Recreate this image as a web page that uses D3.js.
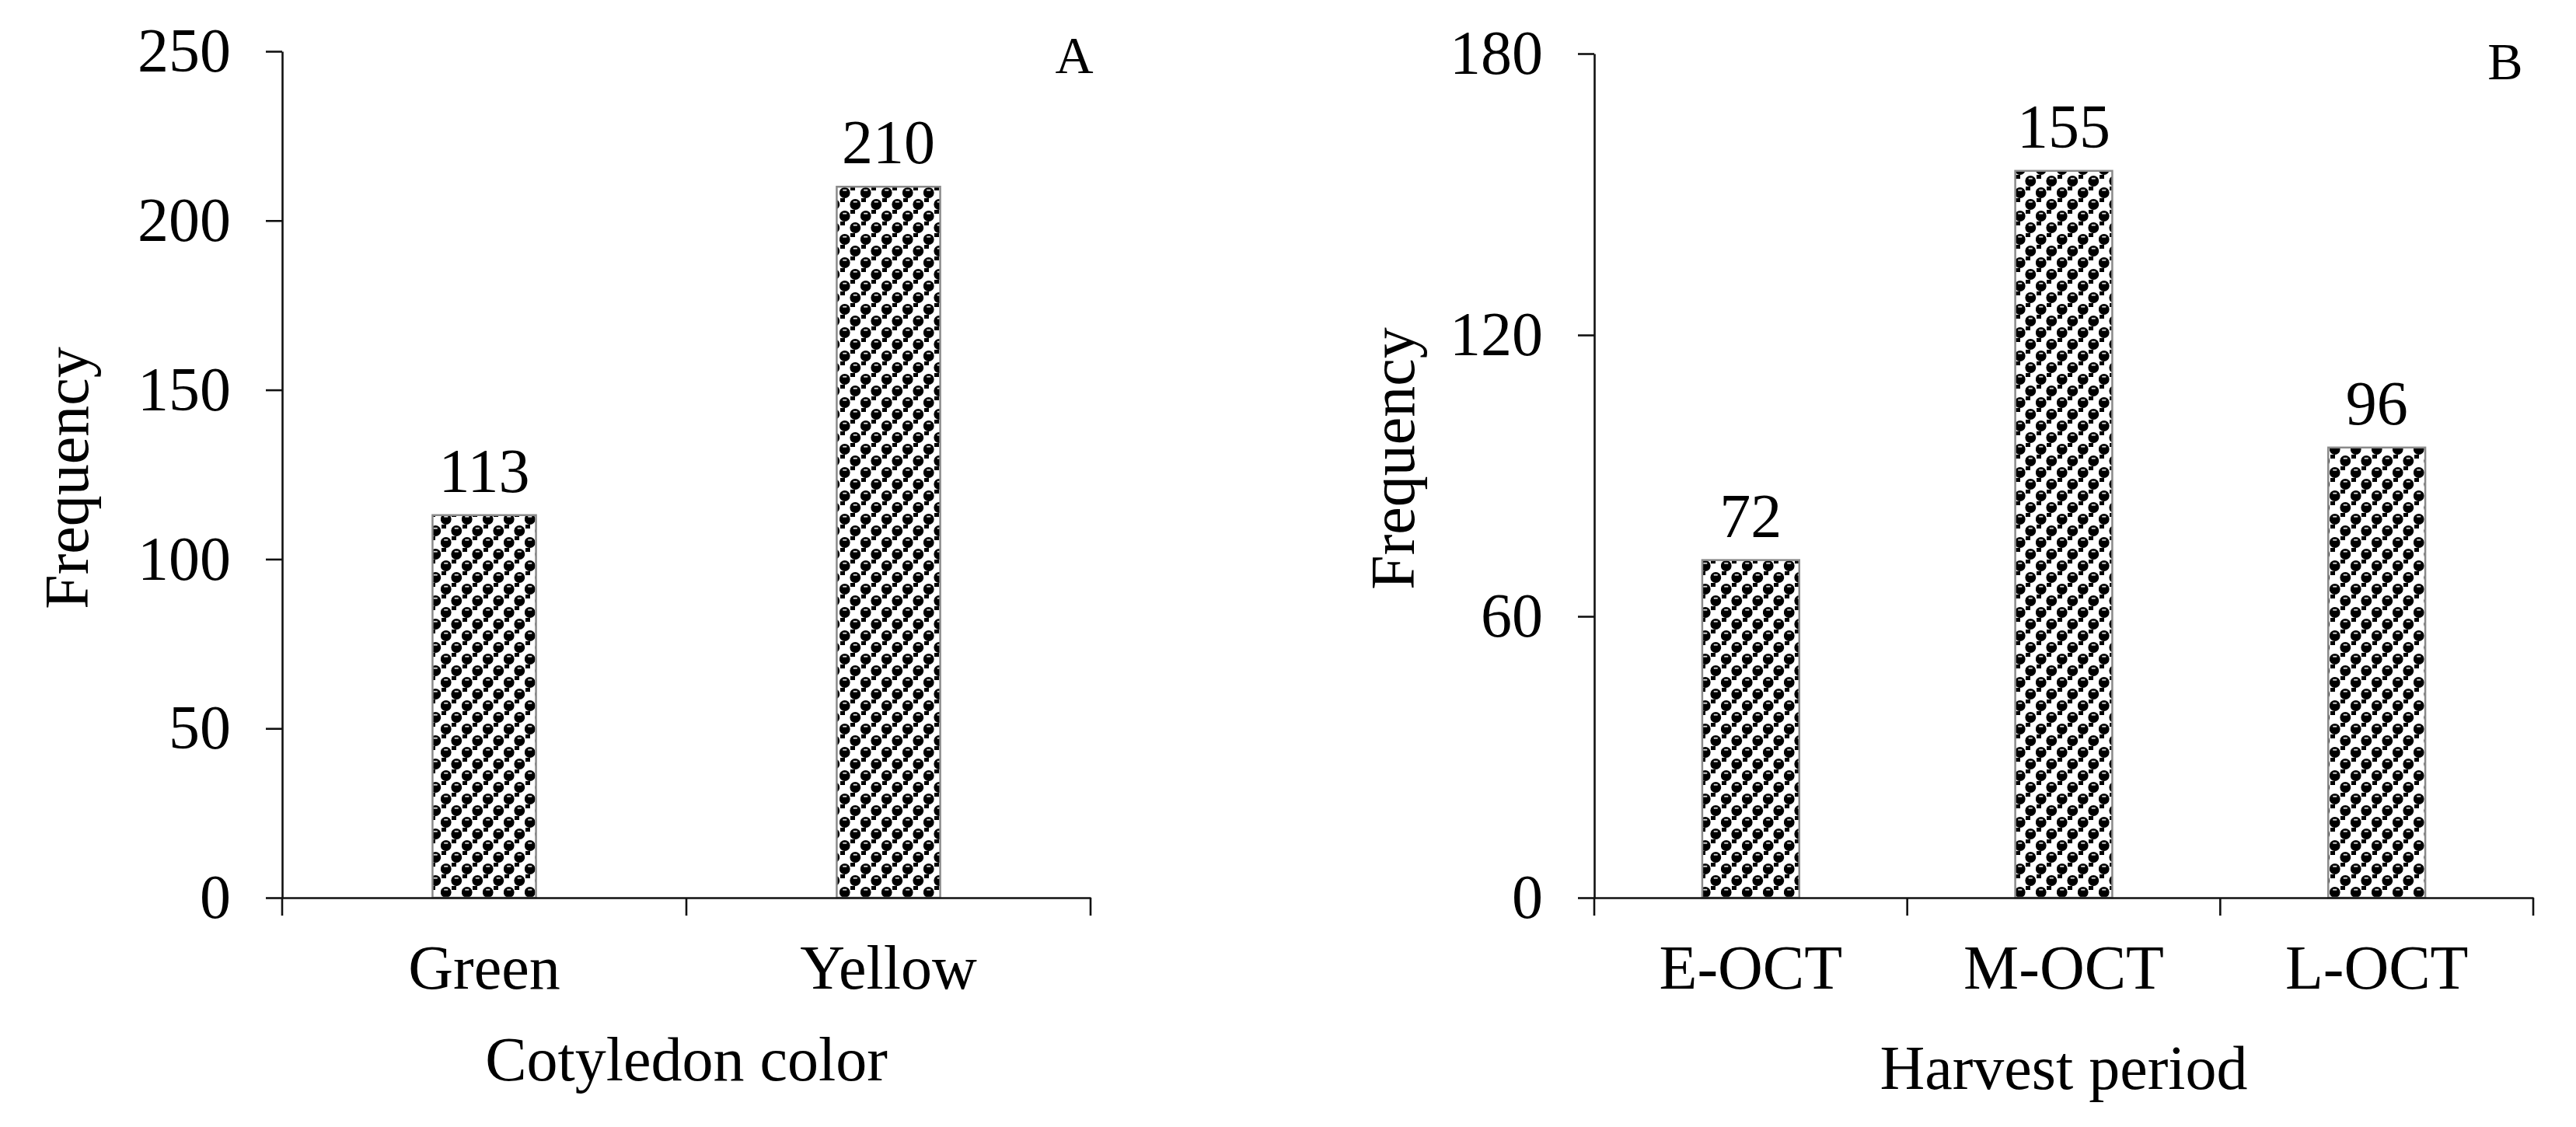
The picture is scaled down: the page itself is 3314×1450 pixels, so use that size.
<!DOCTYPE html>
<html>
<head>
<meta charset="utf-8">
<script src="https://cdn.jsdelivr.net/npm/d3@7"></script>
<style>
  html, body { margin: 0; padding: 0; background: #fff; }
  svg text { font-family: "Liberation Serif", "Times New Roman", serif; fill: #000; }
</style>
</head>
<body>
<div id="chart"></div>
<script>
// panel A data
const colorCategories = ['Green', 'Yellow'];
const colorValues = [113, 210];
const colorTicks = [0, 50, 100, 150, 200, 250];

// panel B data
const harvestCategories = ['E-OCT', 'M-OCT', 'L-OCT'];
const harvestValues = [72, 155, 96];
const harvestTicks = [0, 60, 120, 180];

const width = 3314;
const height = 1450;
const fontSize = 80;

const svg = d3.select('#chart')
  .append('svg')
  .attr('width', width)
  .attr('height', height);

// sphere-like fill pattern used by the bars
const defs = svg.append('defs');
const pat = defs.append('pattern')
  .attr('id', 'balls')
  .attr('patternUnits', 'userSpaceOnUse')
  .attr('width', 27)
  .attr('height', 30);
pat.append('rect').attr('width', 27).attr('height', 30).attr('fill', '#fff');
pat.append('rect').attr('x', 14).attr('y', 0).attr('width', 6).attr('height', 5).attr('fill', '#000');
pat.append('rect').attr('x', 1).attr('y', 15).attr('width', 6).attr('height', 5).attr('fill', '#000');
[[6.75, 8], [20.25, 23], [20.25, -7], [-6.75, 23], [33.75, 23], [6.75, 38]].forEach(([cx, cy]) => {
  pat.append('circle').attr('cx', cx).attr('cy', cy).attr('r', 6.9).attr('fill', '#000');
  pat.append('rect').attr('x', cx - 2.5).attr('y', cy - 4.2).attr('width', 5).attr('height', 1.8).attr('fill', '#ddd');
});

function drawPanel({
  categories, values, ticks, left, right, top, bottom,
  barRatio, yTitle, yTitleX, yTitleY, xTitle, xTitleY, letter, letterX, letterY,
}) {
  const g = svg.append('g');

  const x = d3.scaleBand()
    .domain(categories)
    .range([left, right])
    .paddingInner(0)
    .paddingOuter(0);

  const y = d3.scaleLinear()
    .domain([0, d3.max(ticks)])
    .range([bottom, top]);

  const barW = x.bandwidth() * barRatio;

  g.selectAll('.bar')
    .data(values)
    .enter()
    .append('rect')
    .attr('class', 'bar')
    .attr('x', (d, i) => x(categories[i]) + x.bandwidth() / 2 - barW / 2)
    .attr('y', (d) => y(d))
    .attr('width', barW)
    .attr('height', (d) => bottom - y(d))
    .attr('fill', 'url(#balls)')
    .attr('stroke', '#8a8a8a')
    .attr('stroke-width', 2.5);

  g.selectAll('.val')
    .data(values)
    .enter()
    .append('text')
    .attr('class', 'val')
    .attr('x', (d, i) => x(categories[i]) + x.bandwidth() / 2)
    .attr('y', (d) => y(d) - 30)
    .attr('text-anchor', 'middle')
    .style('font-size', `${fontSize}px`)
    .text((d) => d);

  // y axis
  const yAxis = g.append('g')
    .attr('transform', `translate(${left},0)`)
    .call(d3.axisLeft(y).tickValues(ticks).tickSize(21).tickSizeOuter(0).tickPadding(45));
  yAxis.select('.domain').attr('stroke', '#111').attr('stroke-width', 2.6);
  yAxis.selectAll('.tick line').attr('stroke', '#111').attr('stroke-width', 2.6);
  yAxis.selectAll('.tick text')
    .style('font-size', `${fontSize}px`)
    .style('font-family', '"Liberation Serif", serif')
    .attr('fill', '#000');

  // x axis: labels centred in bands, ticks on band edges
  const xAxis = g.append('g')
    .attr('transform', `translate(0,${bottom})`)
    .call(d3.axisBottom(x).tickSize(0).tickSizeOuter(0));
  xAxis.select('.domain').attr('stroke', '#111').attr('stroke-width', 2.6);
  xAxis.selectAll('.tick text')
    .attr('y', 117)
    .attr('dy', 0)
    .style('font-size', `${fontSize}px`)
    .style('font-family', '"Liberation Serif", serif')
    .attr('fill', '#000');

  const edges = categories.map((c) => x(c)).concat([right]);
  xAxis.selectAll('.edge')
    .data(edges)
    .enter()
    .append('line')
    .attr('class', 'edge')
    .attr('x1', (d) => d)
    .attr('x2', (d) => d)
    .attr('y1', 0)
    .attr('y2', 23)
    .attr('stroke', '#111')
    .attr('stroke-width', 2.6);

  g.append('text')
    .attr('transform', `translate(${yTitleX},${yTitleY}) rotate(-90)`)
    .attr('text-anchor', 'middle')
    .style('font-size', `${fontSize}px`)
    .text(yTitle);

  g.append('text')
    .attr('x', (left + right) / 2)
    .attr('y', xTitleY)
    .attr('text-anchor', 'middle')
    .style('font-size', `${fontSize}px`)
    .text(xTitle);

  g.append('text')
    .attr('x', letterX)
    .attr('y', letterY)
    .attr('text-anchor', 'middle')
    .style('font-size', '68px')
    .text(letter);
}

drawPanel({
  categories: colorCategories,
  values: colorValues,
  ticks: colorTicks,
  left: 363,
  right: 1403,
  top: 66,
  bottom: 1155,
  barRatio: 0.256,
  yTitle: 'Frequency',
  yTitleX: 113,
  yTitleY: 615,
  xTitle: 'Cotyledon color',
  xTitleY: 1390,
  letter: 'A',
  letterX: 1382,
  letterY: 94,
});

drawPanel({
  categories: harvestCategories,
  values: harvestValues,
  ticks: harvestTicks,
  left: 2051,
  right: 3259,
  top: 69,
  bottom: 1155,
  barRatio: 0.31,
  yTitle: 'Frequency',
  yTitleX: 1819,
  yTitleY: 590,
  xTitle: 'Harvest period',
  xTitleY: 1401,
  letter: 'B',
  letterX: 3223,
  letterY: 102,
});
</script>
</body>
</html>
